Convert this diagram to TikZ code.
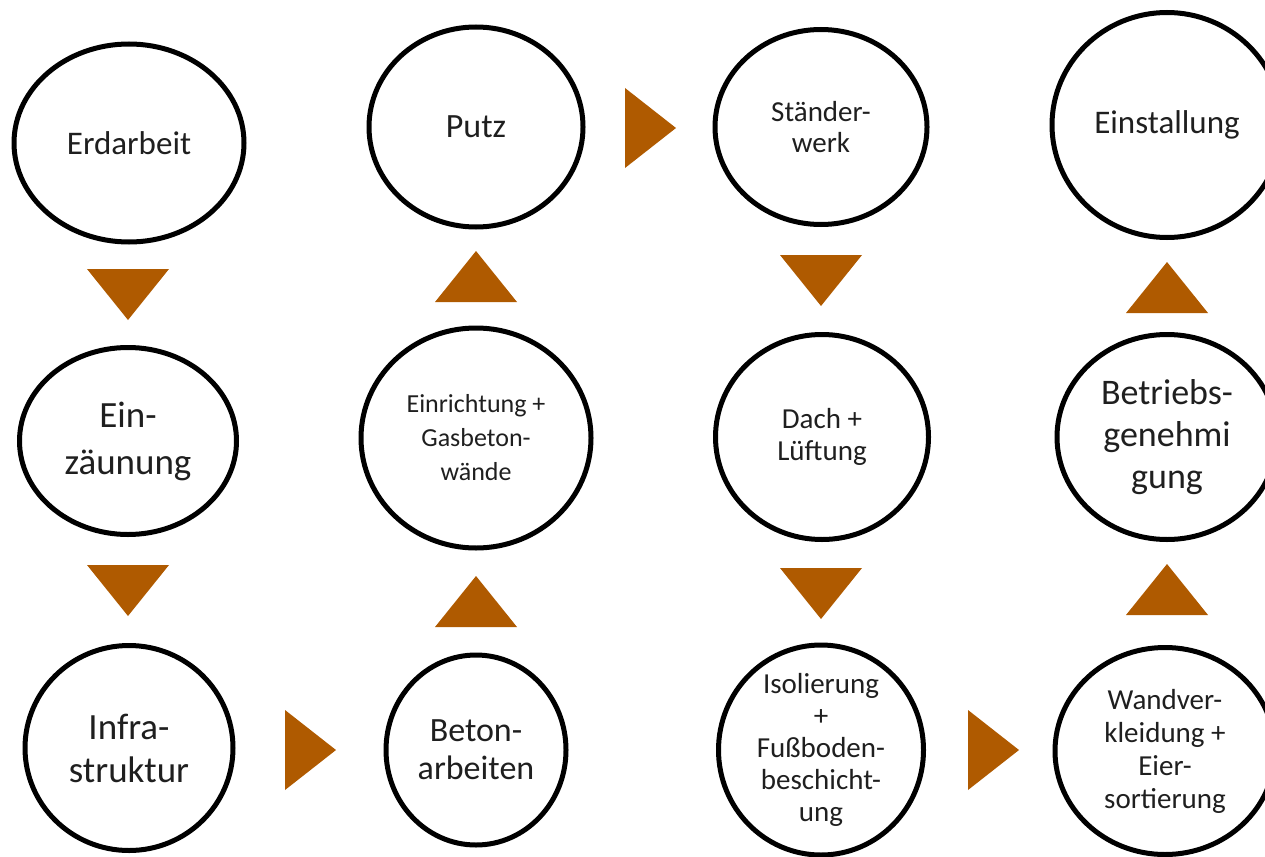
\documentclass[tikz,border=0pt]{standalone}
\usepackage{fontspec}
\setmainfont{Carlito}
\usetikzlibrary{shapes.geometric}

\begin{document}
\begin{tikzpicture}[x=1pt,y=-1pt,line join=round,
    phase/.style={ellipse,draw=black,line width=5pt,inner sep=0pt,align=center,text=black!88}]
      \definecolor{tribrown}{RGB}{175,90,0}
      \useasboundingbox (0,0) rectangle (1265,856);
      % top row
      \node[phase,minimum width=230pt,minimum height=198pt,font=\fontsize{33}{40}\selectfont] (erd) at (129,143) {Erdarbeit};
      \node[phase,minimum width=214pt,minimum height=200pt,font=\fontsize{34}{40}\selectfont] (putz) at (476,127) {Putz};
      \node[phase,minimum width=212pt,minimum height=195pt,font=\fontsize{29}{31}\selectfont] (staender) at (821,127) {Ständer-\\werk};
      \node[phase,minimum width=230pt,minimum height=225pt,font=\fontsize{33}{40}\selectfont] (einst) at (1167,125) {Einstallung};
      % middle row
      \node[phase,minimum width=217pt,minimum height=187pt,inner ysep=-6pt,font=\fontsize{37}{47}\selectfont] (einz) at (128,441) {Ein-\\zäunung};
      \node[phase,minimum width=230pt,minimum height=220pt,font=\fontsize{26}{34}\selectfont] (einr) at (476,438) {Einrichtung +\\Gasbeton-\\wände};
      \node[phase,minimum width=213pt,minimum height=205pt,font=\fontsize{29}{32}\selectfont] (dach) at (822,437) {Dach +\\Lüftung};
      \node[phase,minimum width=220pt,minimum height=205pt,font=\fontsize{36}{42}\selectfont] (betr) at (1167,437) {Betriebs-\\genehmi\\gung};
      % bottom row
      \node[phase,minimum width=208pt,minimum height=205pt,font=\fontsize{37}{43}\selectfont] (infra) at (129,748) {Infra-\\struktur};
      \node[phase,minimum width=180pt,minimum height=190pt,font=\fontsize{34}{38}\selectfont] (beton) at (476,750) {Beton-\\arbeiten};
      \node[phase,minimum width=205pt,minimum height=210pt,inner ysep=-22pt,font=\fontsize{29}{32}\selectfont] (iso) at (821,750) {Isolierung\\+\\Fußboden-\\beschicht-\\ung};
      \node[phase,minimum width=220pt,minimum height=207pt,font=\fontsize{29}{33}\selectfont] (wand) at (1165,751) {Wandver-\\kleidung +\\Eier-\\sortierung};
      % triangles
      \foreach \cx/\ty in {128/269,128/565,821/255,821/568}
        \fill[tribrown] (\cx-41,\ty) -- (\cx+41,\ty) -- (\cx,\ty+51) -- cycle;
      \foreach \cx/\by in {476/302,476/627,1167/313,1167/615}
        \fill[tribrown] (\cx-41,\by) -- (\cx+41,\by) -- (\cx,\by-51) -- cycle;
      \foreach \lx/\cy in {625/128,285/750,968/750}
        \fill[tribrown] (\lx,\cy-40) -- (\lx,\cy+40) -- (\lx+51,\cy) -- cycle;
    \end{tikzpicture}
\end{document}
